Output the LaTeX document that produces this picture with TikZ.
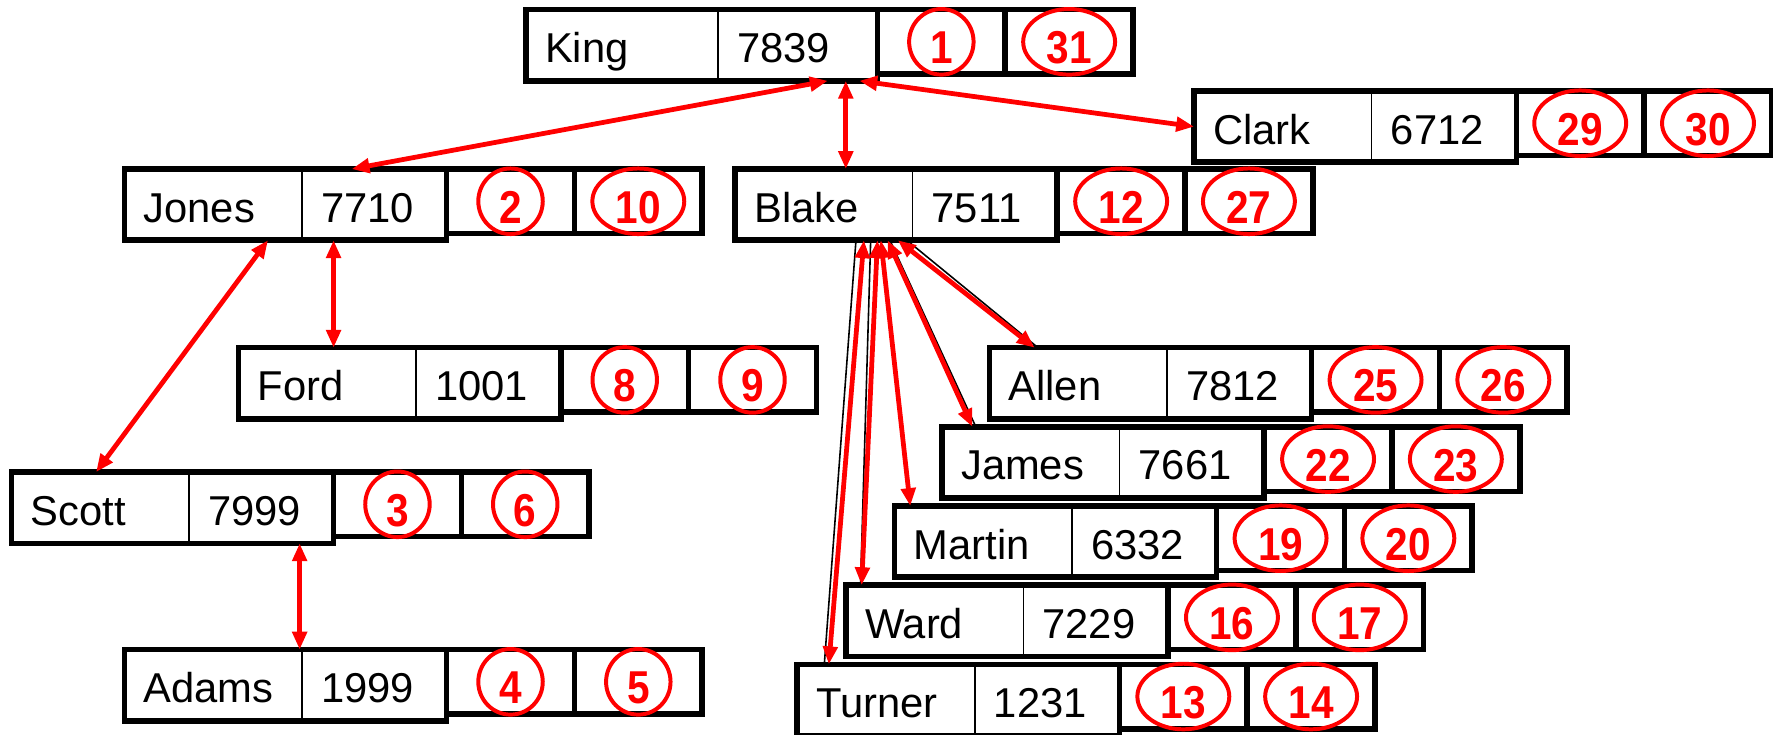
\documentclass[tikz,border=0pt]{standalone}
\usepackage{fontspec}
\setmainfont{Liberation Sans}
\newfontfamily\visitfont{Liberation Sans}[FakeStretch=0.88]
\usepackage{tikz}
\usetikzlibrary{shapes.geometric, arrows.meta, positioning}

\tikzstyle{namecell} = [rectangle, draw=black, line width=0.4pt, outer sep=0pt, minimum height=0.63cm,
inner xsep=0.17cm, inner ysep=0pt, align=left, text height=0.31cm, text depth=0cm,
font=\fontsize{10.5}{12}\selectfont]
\tikzstyle{frame} = [draw=black, line width=1.4pt]
\tikzstyle{pair} = [rectangle, draw=black, line width=1.4pt, outer sep=0pt, minimum width=1.13cm,
minimum height=0.57cm, inner sep=0pt]
\tikzstyle{visit} = [ellipse, draw=red, line width=1pt, text=red, minimum width=0.57cm, minimum height=0.58cm,
inner xsep=2.5pt, inner ysep=0pt, text height=0.39cm, text depth=0cm,
font=\visitfont\fontsize{11.6}{14}\selectfont\bfseries]
\tikzstyle{link} = [red, line width=1.2pt, <->, >={Triangle[length=4.5pt,width=3.6pt]}]
\tikzstyle{trace} = [black, line width=0.4pt]

% one employee row: name | number || enter | leave
\newcommand{\emprec}[7][0cm]{%
  \pgfmathsetlengthmacro\namew{1.23cm+#1}%
  \pgfmathsetlengthmacro\numw{0.94cm+#1}%
  \node[namecell, text width=\namew, anchor=west] (#2) at #3 {#4};
  \node[namecell, text width=\numw, right=0pt of #2] (#2n) {#5};
  \draw[frame] (#2.north west) rectangle (#2n.south east);
  \node[pair, anchor=north west] (#2a) at (#2n.north east) {};
  \node[pair, anchor=north west] (#2b) at (#2a.north east) {};
  \node[visit] (#2c) at (#2a) {#6};
  \node[visit] (#2d) at (#2b) {#7};
}

\begin{document}
\begin{tikzpicture}

        \useasboundingbox (0,0) rectangle (15.68,6.50);

        \emprec[0.13cm]{king}{(4.65,6.10)}{King}{7839}{1}{31}
        \emprec{clark}{(10.56,5.38)}{Clark}{6712}{29}{30}

        \emprec{jones}{(1.10,4.69)}{Jones}{7710}{2}{10}
        \emprec{blake}{(6.50,4.69)}{Blake}{7511}{12}{27}

        \emprec{ford}{(2.11,3.11)}{Ford}{1001}{8}{9}
        \emprec{scott}{(0.10,2.01)}{Scott}{7999}{3}{6}
        \emprec{adams}{(1.10,0.44)}{Adams}{1999}{4}{5}

        \emprec{allen}{(8.75,3.11)}{Allen}{7812}{25}{26}
        \emprec{james}{(8.33,2.41)}{James}{7661}{22}{23}
        \emprec{martin}{(7.91,1.71)}{Martin}{6332}{19}{20}
        \emprec{ward}{(7.48,1.01)}{Ward}{7229}{16}{17}
        \emprec{turner}{(7.05,0.31)}{Turner}{1231}{13}{14}

        % old black connectors under Blake
        \draw [trace] ([xshift=-5.0mm]blake.south east) -- ([xshift=2.4mm]turner.north west);
        \draw [trace] ([xshift=-3.7mm]blake.south east) -- ([xshift=1.3mm]ward.north west);
        \draw [trace] ([xshift=-2.0mm]blake.south east) -- ([xshift=3.0mm]james.north west);
        \draw [trace] ([xshift=-0.5mm]blake.south east) -- ([xshift=4.3mm]allen.north west);

        \draw [link] ([xshift=-4.4mm]kingn.south east) -- ([xshift=-8.4mm]jonesn.north east);
        \draw [link] ([xshift=-2.8mm]kingn.south east) -- ([xshift=-2.8mm]kingn.south east |- blake.north);
        \draw [link] ([xshift=-1.6mm]kingn.south east) -- (clark.west);

        \draw [link] ([xshift=-3.0mm]jones.south east) -- ([xshift=7.5mm]scott.north west);
        \draw [link] ([xshift=2.8mm]jonesn.south west) -- ([xshift=2.8mm]jonesn.south west |- ford.north);
        \draw [link] ([xshift=-3.0mm]scottn.south east) -- ([xshift=-3.0mm]scottn.south east |- adams.north);

        \draw [link] ([xshift=-4.3mm]blake.south east) -- ([xshift=2.8mm]turner.north west);
        \draw [link] ([xshift=-3.1mm]blake.south east) -- ([xshift=1.4mm]ward.north west);
        \draw [link] ([xshift=-2.8mm]blake.south east) -- ([xshift=1.4mm]martin.north west);
        \draw [link] ([xshift=-2.2mm]blake.south east) -- ([xshift=2.7mm]james.north west);
        \draw [link] ([xshift=-1.3mm]blake.south east) -- ([xshift=4.0mm]allen.north west);

\end{tikzpicture}
\end{document}
